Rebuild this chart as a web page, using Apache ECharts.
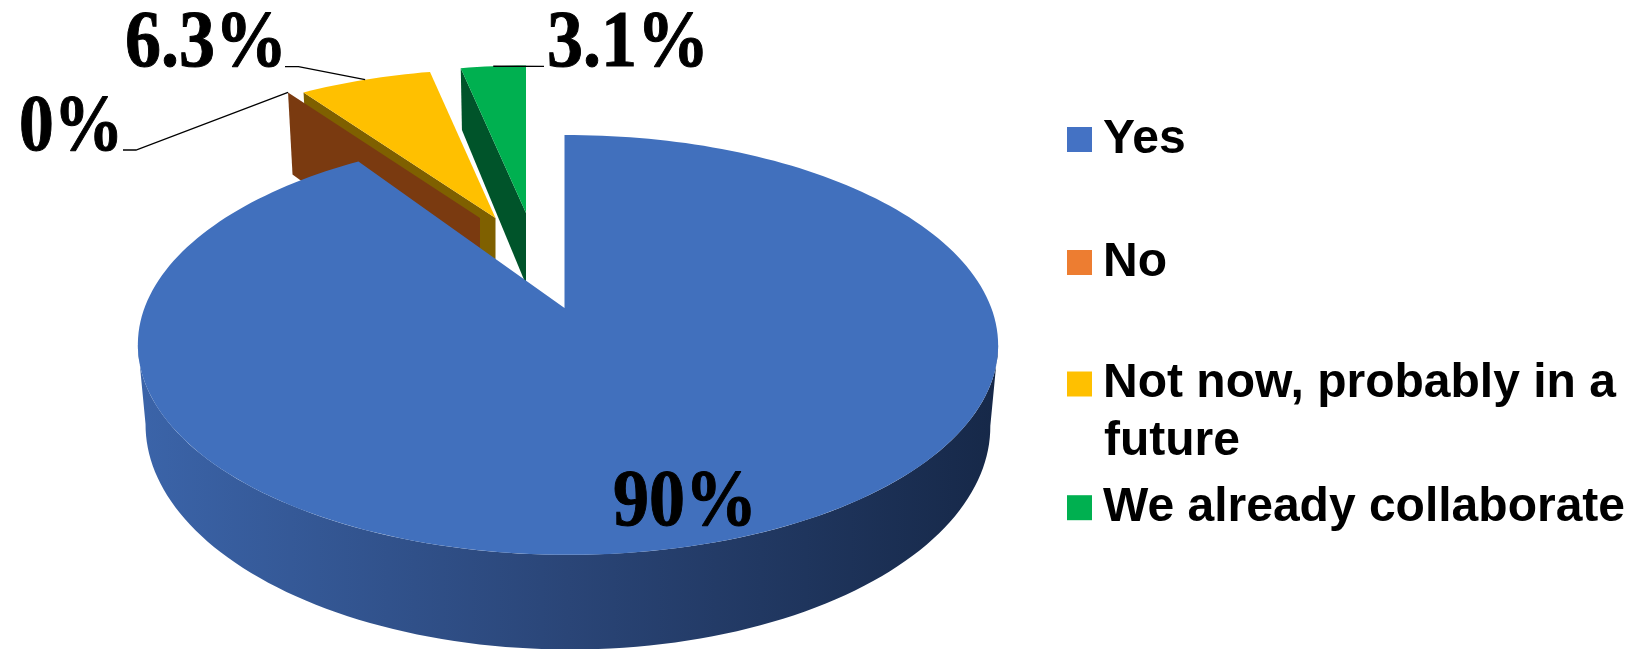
<!DOCTYPE html>
<html>
<head>
<meta charset="utf-8">
<style>html,body{margin:0;padding:0;background:#fff}#chart{width:1635px;height:649px}</style>
<script src="https://cdn.jsdelivr.net/npm/echarts@6/dist/echarts.min.js"></script>
</head>
<body>
<div id="chart"></div>
<script>
// --- data ---
const categories = ['Yes', 'No', 'Not now, probably in a\nfuture', 'We already collaborate'];
const shares = [90, 0, 6.3, 3.1];
const shareLabels = ['90%', '0%', '6.3%', '3.1%'];

// --- colours ---
const faceColors = ['#4170BD', '#7A3A10', '#FFC000', '#00B050'];
const wallColors = ['#2F5597', '#7A3A10', '#7F6000', '#00542A'];
const legendColors = ['#4472C4', '#ED7D31', '#FFC000', '#00B050'];

// --- fake 3d camera, all in px ---
const CX = 564.5, CY = 308;
const RX = 423.4, RY = 203.4, DEPTH = 78;
const PERSP = 0.176, SKEW = 0.008, SHRINK = 0.018;
// how far each slice is pulled out of the pie
const explodeX = [0, -84.5, -69, -38.5];
const explodeY = [0, -0.48, -0.48, -0.509];
const wallDepth = [1, 1.3, 1, 1];
const seriesZ = [5, 3, 2, 2];

// label box left/top, leader elbow
const labelBoxes = [[613, 464], [19, 89], [125, 5], [547, 5]];
const labelScaleX = [0.9, 0.87, 0.9, 0.9];
const leaderElbows = [null, [[123, 150], [136, 150]], [[285, 66.7], [298.5, 66.7]], [[544, 66.3]]];
const leaderFrac = [0, 1, 0.5, 0.5];
const legendIconCenter = [138.5, 261.5, 383, 506.7];

const total = shares.reduce((a, b) => a + b, 0);

function sliceAngles(idx) {
    let start = 0;
    for (let i = 0; i < idx; i++) start += shares[i] / total * 360;
    return [start, start + shares[idx] / total * 360];
}

function project(idx, deg, r, z) {
    const t = deg * Math.PI / 180;
    const x = r * Math.sin(t);
    const y = -r * Math.cos(t) + explodeY[idx];
    const w = 1 - PERSP * y - SKEW * x;
    return [
        CX + explodeX[idx] + RX * x * (1 - SHRINK * z) / w,
        CY + (RY * y + DEPTH * z) / w
    ];
}

function arc(idx, from, to, z) {
    const pts = [];
    const n = Math.max(1, Math.ceil(Math.abs(to - from) / 1.5));
    for (let i = 0; i <= n; i++) pts.push(project(idx, from + (to - from) * i / n, 1, z));
    return pts;
}

function renderSlice(idx) {
    const [a0, a1] = sliceAngles(idx);
    const kids = [];
    const dz = wallDepth[idx];
    const apexTop = project(idx, 0, 0, 0), apexBot = project(idx, 0, 0, dz);

    if (idx === 0) {
        // outer wall between the two widest points of the ellipse
        const wall = arc(idx, 100, 260, 0).concat(arc(idx, 260, 100, 1));
        kids.push({
            type: 'polygon', shape: { points: wall },
            style: {
                fill: new echarts.graphic.LinearGradient(0, 0, 1, 0, [
                    { offset: 0, color: '#3B64A9' },
                    { offset: 0.5, color: '#2A4577' },
                    { offset: 1, color: '#162848' }
                ])
            }
        });
    } else {
        // only the left cut wall can be seen on the pulled out slices
        kids.push({
            type: 'polygon',
            shape: { points: [project(idx, a0, 1, 0), apexTop, apexBot, project(idx, a0, 1, dz)] },
            style: { fill: wallColors[idx] }
        });
    }
    if (a1 > a0) {
        kids.push({
            type: 'polygon',
            shape: { points: [apexTop].concat(arc(idx, a0, a1, 0)) },
            style: { fill: faceColors[idx] }
        });
    }

    // leader line
    if (leaderElbows[idx]) {
        const end = project(idx, a0 + (a1 - a0) * leaderFrac[idx], 1, 0);
        kids.push({
            type: 'polyline', z2: 10,
            shape: { points: leaderElbows[idx].concat([end]) },
            style: { stroke: '#000', lineWidth: 1.3, fill: null }
        });
    }

    kids.push({
        type: 'text', z2: 11,
        x: labelBoxes[idx][0], y: labelBoxes[idx][1],
        scaleX: labelScaleX[idx],
        style: {
            text: shareLabels[idx],
            font: 'bold 80px "Liberation Serif"',
            fill: '#000',
            stroke: '#000',
            lineWidth: 1,
            textAlign: 'left',
            textVerticalAlign: 'top'
        }
    });
    return { type: 'group', children: kids };
}

const chart = echarts.init(document.getElementById('chart'), null, { renderer: 'canvas' });

const legendFont = { fontFamily: 'Liberation Sans', fontWeight: 'bold', fontSize: 48, color: '#000', padding: [0, 0, 0, 6] };

chart.setOption({
    animation: false,
    backgroundColor: '#fff',
    legend: categories.map((name, i) => ({
        data: [{ name: name, icon: 'rect' }],
        left: 1067,
        top: legendIconCenter[i] - 23,
        padding: 0,
        itemWidth: 25,
        itemHeight: 25,
        selectedMode: false,
        formatter: n => n.split('\n')[0],
        textStyle: legendFont
    })),
    graphic: [{
        type: 'text', left: 1104, top: 418,
        style: {
            text: categories[2].split('\n')[1],
            font: 'bold 48px "Liberation Sans"',
            fill: '#000'
        }
    }],
    series: categories.map((name, i) => ({
        type: 'custom',
        name: name,
        coordinateSystem: 'none',
        z: seriesZ[i],
        silent: true,
        itemStyle: { color: legendColors[i] },
        data: [[shares[i]]],
        renderItem: () => renderSlice(i)
    }))
});
</script>
</body>
</html>
